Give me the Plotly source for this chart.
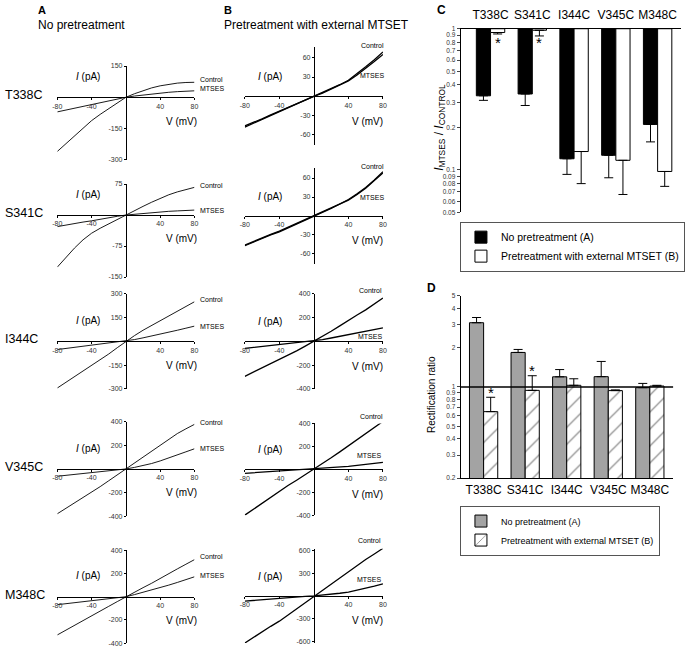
import math
import plotly.graph_objects as go

W, H = 685, 651
FONT = "Arial, Liberation Sans, sans-serif"

# ---------------- data ----------------
mutants = ["T338C", "S341C", "I344C", "V345C", "M348C"]
voltage_mV = [-80, -70, -60, -50, -40, -30, -20, -10, 0, 10, 20, 30, 40, 50, 60, 70, 80]
voltage_ticks = [-80, -40, 40, 80]

# Panel A: no pretreatment (current, pA)
A_T338C_control = [-260, -222, -185, -148, -112, -82, -54, -26, 0, 17, 32, 45, 55, 63, 68, 71, 72]
A_T338C_mtses = [-70, -61, -53, -44, -35, -26, -17, -9, 0, 6, 11, 16, 20, 24, 27, 29, 31]
A_S341C_control = [-126, -103, -80, -60, -44, -32, -21, -10, 0, 10, 21, 31, 41, 49, 56, 62, 67]
A_S341C_mtses = [-28, -24, -21, -17, -14, -10, -7, -3, 0, 2, 4, 6, 8, 9, 10, 11, 12]
A_I344C_control = [-295, -260, -225, -190, -155, -118, -80, -40, 0, 36, 70, 100, 130, 160, 190, 220, 250]
A_I344C_mtses = [-52, -45, -39, -33, -27, -20, -14, -7, 0, 11, 22, 33, 45, 57, 70, 83, 96]
A_V345C_control = [-380, -335, -290, -245, -200, -150, -100, -50, 0, 50, 100, 152, 205, 255, 300, 340, 378]
A_V345C_mtses = [-62, -55, -48, -40, -33, -25, -17, -8, 0, 13, 28, 46, 68, 92, 118, 145, 171]
A_M348C_control = [-330, -290, -250, -208, -167, -125, -83, -42, 0, 38, 78, 116, 155, 198, 240, 280, 320]
A_M348C_mtses = [-69, -60, -52, -43, -35, -26, -17, -9, 0, 18, 37, 57, 78, 100, 123, 147, 172]

# Panel B: pretreatment with external MTSET (current, pA)
B_T338C_control = [-48, -42, -36, -30, -24, -18, -12, -6, 0, 5, 11, 18, 25, 35, 46, 57, 69]
B_T338C_mtses = [-46, -41, -35, -29, -23, -17, -11, -5, 0, 5, 11, 17, 24, 33, 43, 54, 65]
B_S341C_control = [-47, -41, -35, -30, -25, -19, -13, -6, 0, 6, 12, 19, 26, 35, 45, 57, 70]
B_S341C_mtses = [-46, -40, -34, -29, -24, -18, -12, -6, 0, 6, 12, 18, 25, 34, 44, 56, 68]
B_I344C_control = [-295, -260, -225, -188, -152, -116, -80, -40, 0, 42, 85, 130, 178, 222, 265, 315, 365]
B_I344C_mtses = [-60, -52, -45, -37, -30, -22, -15, -7, 0, 14, 28, 43, 58, 72, 86, 100, 113]
B_V345C_control = [-400, -348, -295, -242, -190, -142, -95, -48, 0, 50, 100, 152, 205, 258, 310, 364, 418]
B_V345C_mtses = [-35, -30, -26, -21, -16, -12, -8, -4, 0, 6, 12, 19, 26, 34, 42, 51, 60]
B_M348C_control = [-620, -545, -470, -400, -332, -250, -165, -83, 0, 80, 160, 245, 328, 405, 480, 552, 626]
B_M348C_mtses = [-68, -58, -48, -39, -30, -22, -15, -7, 0, 10, 20, 35, 51, 75, 100, 128, 158]

A_yranges = [(-300, 150), (-150, 75), (-300, 300), (-400, 400), (-400, 400)]
A_yticks = [[-300, -150, 150], [-150, -75, 75], [-300, -150, 150, 300],
            [-400, -200, 200, 400], [-400, -200, 200, 400]]
B_yranges = [(-76, 76), (-76, 76), (-400, 400), (-400, 400), (-620, 620)]
B_yticks = [[-60, -30, 30, 60], [-60, -30, 30, 60], [-400, -200, 200, 400],
            [-400, -200, 200, 400], [-600, -300, 300, 600]]

# Panel C: I_MTSES / I_CONTROL (log scale)
C_ratio_A = [0.335, 0.345, 0.120, 0.127, 0.21]
C_low_A = [0.311, 0.286, 0.093, 0.088, 0.158]
C_ratio_B = [0.94, 0.975, 0.135, 0.117, 0.0975]
C_low_B = [0.918, 0.889, 0.080, 0.067, 0.0765]
C_ytick_vals = [1, 0.9, 0.8, 0.7, 0.6, 0.5, 0.4, 0.3, 0.2, 0.1, 0.09, 0.08, 0.07, 0.06, 0.05]
C_star_value = [0.80, 0.80]

# Panel D: rectification ratio (log scale)
D_ratio_A = [3.11, 1.84, 1.197, 1.20, 0.988]
D_high_A = [3.41, 1.94, 1.36, 1.57, 1.065]
D_ratio_B = [0.647, 0.942, 1.03, 0.938, 1.017]
D_high_B = [0.834, 1.22, 1.156, 0.95, 1.03]
D_ytick_vals = [5, 4, 3, 2, 1, 0.9, 0.8, 0.7, 0.6, 0.5, 0.4, 0.3, 0.2]
D_star_value = [0.90, 1.34]

legend_A = "No pretreatment (A)"
legend_B = "Pretreatment with external MTSET (B)"

# ---------------- layout helpers (pixel -> paper) ----------------
def px(x):
    return x / W


def py(y):
    return 1 - y / H


def ann(text, x, y, size, xanchor="center", yanchor="middle", **kw):
    d = dict(text=text, x=px(x), y=py(y), xref="paper", yref="paper", showarrow=False,
             font=dict(size=size, color="black", family=FONT),
             xanchor=xanchor, yanchor=yanchor)
    d.update(kw)
    return d


A_xpix = (53, 192)
B_xpix = (243, 383)
A_ypix = [(62.7, 157.5), (182, 276), (293, 389), (422.3, 517.7), (552.3, 646)]
B_ypix = [(43.9, 142.7), (165.7, 262.9), (293, 389), (424, 516.7), (550.7, 646)]

A_label_ctrl = [76.7, 183.3, 298.3, 423.3, 558.3]
A_label_mt = [85.7, 208.3, 325.7, 449.3, 577.3]
B_label_ctrl = [(372, 42), (372, 164), (370.7, 289.3), (371.7, 416.7), (369.3, 542.3)]
B_label_mt = [(372, 72), (372, 196), (370, 336), (369.3, 456.7), (369.3, 581.7)]

A_data = [(A_T338C_control, A_T338C_mtses), (A_S341C_control, A_S341C_mtses),
          (A_I344C_control, A_I344C_mtses), (A_V345C_control, A_V345C_mtses),
          (A_M348C_control, A_M348C_mtses)]
B_data = [(B_T338C_control, B_T338C_mtses), (B_S341C_control, B_S341C_mtses),
          (B_I344C_control, B_I344C_mtses), (B_V345C_control, B_V345C_mtses),
          (B_M348C_control, B_M348C_mtses)]

fig = go.Figure()
layout = dict(width=W, height=H, margin=dict(l=0, r=0, t=0, b=0),
              paper_bgcolor="white", plot_bgcolor="rgba(0,0,0,0)",
              font=dict(family=FONT, color="black"), showlegend=True,
              barmode="group", bargap=0.32, bargroupgap=0)
annotations = []
shapes = []

tickfont = dict(size=7, color="#333", family=FONT)

for r in range(5):
    for c, (xpix, ypix, yr, yt, data) in enumerate([
            (A_xpix, A_ypix[r], A_yranges[r], A_yticks[r], A_data[r]),
            (B_xpix, B_ypix[r], B_yranges[r], B_yticks[r], B_data[r])]):
        n = r * 2 + c + 1
        top, bot = ypix
        ymin, ymax = yr
        zero_y = top + (ymax - 0) / (ymax - ymin) * (bot - top)
        zero_x = xpix[0] + (0 - (-80)) / 160 * (xpix[1] - xpix[0])
        xa = dict(domain=[px(xpix[0]), px(xpix[1])], range=[-80, 80], anchor="free",
                  position=py(zero_y), showline=True, linecolor="black", linewidth=1,
                  ticks="outside", ticklen=2, tickcolor="black", tickvals=voltage_ticks,
                  ticktext=[str(v) for v in voltage_ticks], tickfont=tickfont,
                  showgrid=False, zeroline=False, fixedrange=True)
        ya = dict(domain=[py(bot), py(top)], range=[ymin, ymax], anchor="free",
                  position=px(zero_x), showline=True, linecolor="black", linewidth=1,
                  ticks="outside", ticklen=2, tickcolor="black", tickvals=yt,
                  ticktext=[str(v) for v in yt], tickfont=tickfont,
                  showgrid=False, zeroline=False, fixedrange=True)
        sfx = "" if n == 1 else str(n)
        layout["xaxis" + sfx] = xa
        layout["yaxis" + sfx] = ya
        ctrl, mt = data
        lw = 0.9 if c == 0 else 1.3
        for series in (ctrl, mt):
            fig.add_trace(go.Scatter(x=voltage_mV, y=series, mode="lines",
                                     line=dict(color="black", width=lw),
                                     xaxis="x" + sfx, yaxis="y" + sfx,
                                     showlegend=False, hoverinfo="skip"))
        if c == 0:
            annotations.append(ann("<i>I</i> (pA)", zero_x - 38, zero_y - 21, 10))
            annotations.append(ann("V (mV)", 179, zero_y + 24, 10))
            annotations.append(ann("Control", 196, A_label_ctrl[r], 7, xanchor="left"))
            annotations.append(ann("MTSES", 196, A_label_mt[r], 7, xanchor="left"))
        else:
            annotations.append(ann("<i>I</i> (pA)", zero_x - 44, zero_y - 20, 10))
            annotations.append(ann("V (mV)", 367, zero_y + 25, 10))
            annotations.append(ann("Control", *B_label_ctrl[r], 7))
            annotations.append(ann("MTSES", *B_label_mt[r], 7))
    top, bot = A_ypix[r]
    ymin, ymax = A_yranges[r]
    annotations.append(ann(mutants[r], -2, top + ymax / (ymax - ymin) * (bot - top) - 2,
                           12.5, xanchor="left"))

# headers
annotations.append(ann("<b>A</b>", 31, 6.5, 11, xanchor="left"))
annotations.append(ann("No pretreatment", 31, 21, 12, xanchor="left"))
annotations.append(ann("<b>B</b>", 220, 6.5, 11, xanchor="left"))
annotations.append(ann("Pretreatment with external MTSET", 220, 21, 12, xanchor="left"))
annotations.append(ann("<b>C</b>", 436, 6, 12, xanchor="left"))
annotations.append(ann("<b>D</b>", 426, 287, 12, xanchor="left"))

# ---------------- Panel C ----------------
layout["xaxis11"] = dict(domain=[px(461.7), px(685)], type="category", range=[-0.716, 4.56],
                         anchor="y11", side="top", showline=True, linecolor="black",
                         linewidth=1.2, ticks="", tickfont=dict(size=12, color="black"),
                         ticklabelstandoff=4,
                         showgrid=False, zeroline=False, fixedrange=True)
layout["yaxis11"] = dict(domain=[py(210.7), py(25)], type="log",
                         range=[math.log10(0.05), 0], anchor="x11", showline=True,
                         linecolor="black", linewidth=1, ticks="outside", ticklen=3,
                         tickvals=C_ytick_vals, ticktext=[str(v) for v in C_ytick_vals],
                         tickfont=dict(size=6.5, color="#333"), showgrid=False,
                         zeroline=False, fixedrange=True)
fig.add_trace(go.Bar(x=mutants, y=[v - 1 for v in C_ratio_A], base=1, name=legend_A,
                     marker=dict(color="black", line=dict(color="black", width=1)),
                     error_y=dict(type="data", symmetric=False, array=[0] * 5,
                                  arrayminus=[v - lo for v, lo in zip(C_ratio_A, C_low_A)],
                                  color="black", thickness=1, width=4.5),
                     xaxis="x11", yaxis="y11", legend="legend", hoverinfo="skip"))
fig.add_trace(go.Bar(x=mutants, y=[v - 1 for v in C_ratio_B], base=1, name=legend_B,
                     marker=dict(color="white", line=dict(color="black", width=1)),
                     error_y=dict(type="data", symmetric=False, array=[0] * 5,
                                  arrayminus=[v - lo for v, lo in zip(C_ratio_B, C_low_B)],
                                  color="black", thickness=1, width=4.5),
                     xaxis="x11", yaxis="y11", legend="legend", hoverinfo="skip"))
for i, sv in enumerate(C_star_value):
    annotations.append(dict(text="*", x=i + 0.17, y=math.log10(sv), xref="x11", yref="y11",
                            showarrow=False, font=dict(size=15, color="black"),
                            yanchor="middle"))
annotations.append(ann("<i>I</i><sub>MTSES</sub> / <i>I</i><sub>CONTROL</sub>", 440, 125, 12,
                       textangle=-90))

# ---------------- Panel D ----------------
layout["xaxis12"] = dict(domain=[px(461.7), px(677)], type="category", range=[-0.553, 4.56],
                         anchor="y12", side="bottom", showline=True, linecolor="black",
                         linewidth=1.2, ticks="", tickfont=dict(size=12, color="black"),
                         showgrid=False, zeroline=False, fixedrange=True)
layout["yaxis12"] = dict(domain=[py(479.3), py(295)], type="log",
                         range=[math.log10(0.2), math.log10(5)], anchor="x12", showline=True,
                         linecolor="black", linewidth=1, ticks="outside", ticklen=3,
                         tickvals=D_ytick_vals, ticktext=[str(v) for v in D_ytick_vals],
                         tickfont=dict(size=6.5, color="#333"), showgrid=False,
                         zeroline=False, fixedrange=True)
fig.add_trace(go.Bar(x=mutants, y=D_ratio_A, name=legend_A,
                     marker=dict(color="#a3a3a3", line=dict(color="black", width=1)),
                     error_y=dict(type="data", symmetric=False, arrayminus=[0] * 5,
                                  array=[hi - v for v, hi in zip(D_ratio_A, D_high_A)],
                                  color="black", thickness=1, width=4.5),
                     xaxis="x12", yaxis="y12", legend="legend2", hoverinfo="skip"))
fig.add_trace(go.Bar(x=mutants, y=D_ratio_B, name=legend_B,
                     marker=dict(color="white", line=dict(color="black", width=1),
                                 pattern=dict(shape="/", fgcolor="black", bgcolor="white",
                                              size=12, solidity=0.1)),
                     error_y=dict(type="data", symmetric=False, arrayminus=[0] * 5,
                                  array=[hi - v for v, hi in zip(D_ratio_B, D_high_B)],
                                  color="black", thickness=1, width=4.5),
                     xaxis="x12", yaxis="y12", legend="legend2", hoverinfo="skip"))
for i, sv in enumerate(D_star_value):
    annotations.append(dict(text="*", x=i + 0.167, y=math.log10(sv), xref="x12", yref="y12",
                            showarrow=False, font=dict(size=15, color="black"),
                            yanchor="middle"))
shapes.append(dict(type="line", xref="x12 domain", x0=0, x1=1, yref="y12", y0=1, y1=1,
                   line=dict(color="black", width=1.3)))
annotations.append(ann("Rectification ratio", 432, 395, 10, textangle=-90))

legend_common = dict(xanchor="left", yanchor="top", bordercolor="#555", borderwidth=1,
                     bgcolor="white", tracegroupgap=0, itemwidth=30)
layout["legend"] = dict(x=px(461), y=py(220),
                        font=dict(size=10.5, color="black", family=FONT), **legend_common)
layout["legend2"] = dict(x=px(461), y=py(507),
                         font=dict(size=9, color="black", family=FONT), **legend_common)

layout["annotations"] = annotations
layout["shapes"] = shapes
fig.update_layout(**layout)
fig.write_html("out.html", config={"displayModeBar": False},
               post_script="document.body.style.margin='0px';")
